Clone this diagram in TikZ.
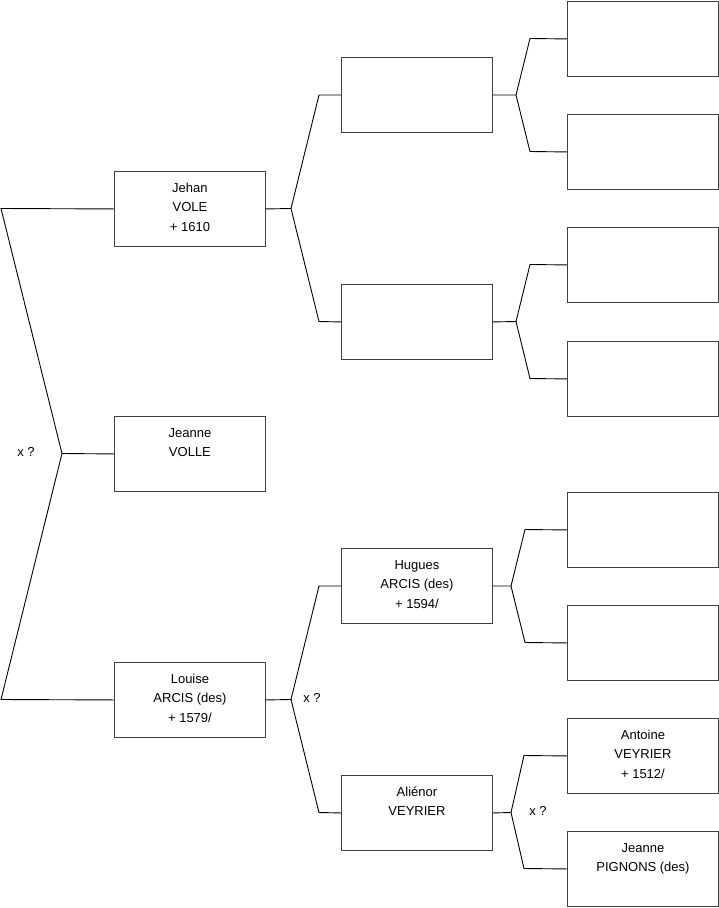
\documentclass[tikz,border=0pt]{standalone}
\usepackage{fontspec}
\setmainfont{Liberation Sans}
\newcommand\personcontent[1]{\parbox[t][75pt][t]{151pt}{\centering\rule{0pt}{20.8pt}#1}}
\begin{document}
\begin{tikzpicture}[x=1pt,y=-1pt,
  person/.style={draw=black!75, line width=0.9pt, inner sep=0pt, anchor=north west,
    font=\fontsize{13}{19.6}\selectfont},
  link/.style={draw=black, line width=0.9pt, line join=miter},
  marr/.style={font=\fontsize{13}{15}\selectfont, inner sep=0pt}]
\useasboundingbox (0,0) rectangle (719,908);
% column 1
\node[person] (jehan) at (114,171) {\personcontent{Jehan\\VOLE\\+ 1610}};
\node[person] (jeanne) at (114,416) {\personcontent{Jeanne\\VOLLE}};
\node[person] (louise) at (114,662) {\personcontent{Louise\\ARCIS (des)\\+ 1579/}};
% column 2
\node[person] (pa) at (341,57) {\personcontent{}};
\node[person] (pb) at (341,284) {\personcontent{}};
\node[person] (hugues) at (341,548) {\personcontent{Hugues\\ARCIS (des)\\+ 1594/}};
\node[person] (alienor) at (341,775) {\personcontent{Aliénor\\VEYRIER}};
% column 3
\node[person] (c1) at (567,1) {\personcontent{}};
\node[person] (c2) at (567,114) {\personcontent{}};
\node[person] (c3) at (567,227) {\personcontent{}};
\node[person] (c4) at (567,341) {\personcontent{}};
\node[person] (c5) at (567,492) {\personcontent{}};
\node[person] (c6) at (567,605) {\personcontent{}};
\node[person] (antoine) at (567,718) {\personcontent{Antoine\\VEYRIER\\+ 1512/}};
\node[person] (pignons) at (567,831) {\personcontent{Jeanne\\PIGNONS (des)}};
% root connectors
\coordinate (r1) at (1,208.5);
\coordinate (r2) at (62,453.5);
\coordinate (r3) at (1,699.5);
\draw[link] (jehan.west) -- (r1) -- (r2) -- (r3) -- (louise.west);
\draw[link] (r2) -- (jeanne.west);
\node[marr] (m0) at (26,452) {x ?};
% Jehan
\coordinate (j0) at (291,208.5);
\coordinate (j1) at (319,95);
\coordinate (j2) at (319,321.5);
\draw[link] (jehan.east) -- (j0);
\draw[link] (pa.west) -- (j1) -- (j0) -- (j2) -- (pb.west);
% Louise
\coordinate (l0) at (291,699.5);
\coordinate (l1) at (319,586);
\coordinate (l2) at (319,812.5);
\draw[link] (louise.east) -- (l0);
\draw[link] (hugues.west) -- (l1) -- (l0) -- (l2) -- (alienor.west);
\node[marr] (m1) at (312,698) {x ?};
% pa
\coordinate (a0) at (516,95);
\coordinate (a1) at (530,38.5);
\coordinate (a2) at (530,151.5);
\draw[link] (pa.east) -- (a0);
\draw[link] (c1.west) -- (a1) -- (a0) -- (a2) -- (c2.west);
% pb
\coordinate (b0) at (516,321.5);
\coordinate (b1) at (530,264.5);
\coordinate (b2) at (530,378.5);
\draw[link] (pb.east) -- (b0);
\draw[link] (c3.west) -- (b1) -- (b0) -- (b2) -- (c4.west);
% hugues
\coordinate (h0) at (511,586);
\coordinate (h1) at (525,529.5);
\coordinate (h2) at (525,642.5);
\draw[link] (hugues.east) -- (h0);
\draw[link] (c5.west) -- (h1) -- (h0) -- (h2) -- (c6.west);
% alienor
\coordinate (e0) at (511,812.5);
\coordinate (e1) at (524,755.5);
\coordinate (e2) at (524,868.5);
\draw[link] (alienor.east) -- (e0);
\draw[link] (antoine.west) -- (e1) -- (e0) -- (e2) -- (pignons.west);
\node[marr] (m2) at (538,811) {x ?};
\end{tikzpicture}
\end{document}
